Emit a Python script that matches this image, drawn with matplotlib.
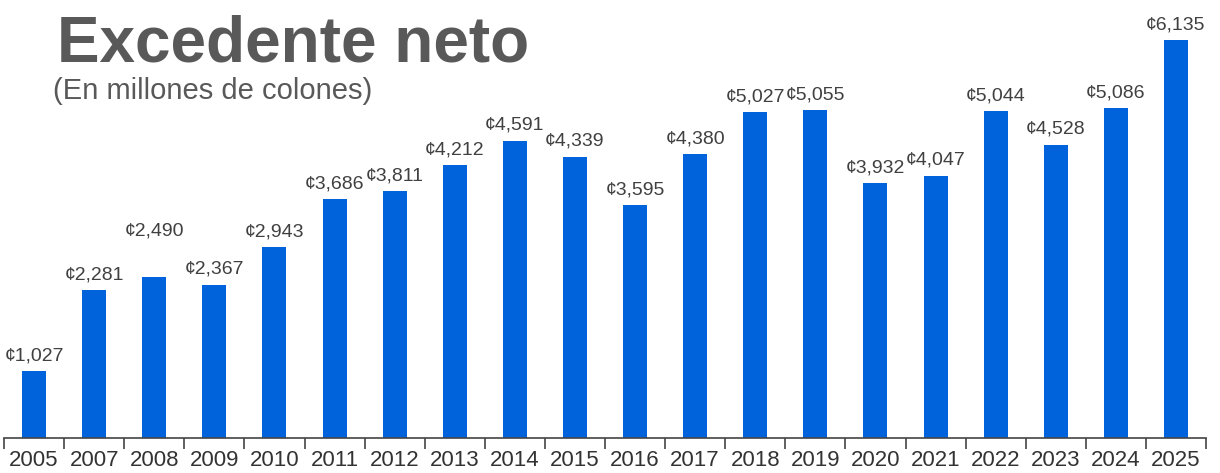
import matplotlib
matplotlib.use("Agg")
import matplotlib.pyplot as plt
import numpy as np

plt.rcParams["font.family"] = ["Liberation Sans", "DejaVu Sans"]

YEARS = ["2005", "2007", "2008", "2009", "2010", "2011", "2012", "2013", "2014", "2015",
         "2016", "2017", "2018", "2019", "2020", "2021", "2022", "2023", "2024", "2025"]
SURPLUS = [1027, 2281, 2490, 2367, 2943, 3686, 3811, 4212, 4591, 4339,
           3595, 4380, 5027, 5055, 3932, 4047, 5044, 4528, 5086, 6135]

BAR = "#0063DC"

fig = plt.figure(figsize=(12.2, 4.73), dpi=100)
ax = fig.add_axes([0.0, 0.074, 1.0, 0.926])
x = np.arange(len(YEARS))
ax.bar(x, SURPLUS, width=0.4, color=BAR, zorder=2)

# label for 2008 sits higher in the original
extra = {"2008": 30}
for xi, yr, v in zip(x, YEARS, SURPLUS):
    ax.annotate(f"¢{v:,}", (xi, v), xytext=(0, 7 + extra.get(yr, 0)), textcoords="offset pixels",
                ha="center", va="bottom", fontsize=14, color="#404040")

ax.set_xlim(-0.5 - 4 / 60.1, 19.5 + 14 / 60.1)
ax.set_ylim(0, 438 / 0.0648)
ax.set_xticks(x)
ax.set_xticklabels(YEARS, fontsize=16, color="#333333")
ax.tick_params(axis="x", length=0, pad=9)
ax.set_xticks(np.arange(-0.5, len(YEARS)), minor=True)
ax.tick_params(axis="x", which="minor", length=8, width=1.2, color="#444444", direction="out")
ax.set_yticks([])
for s in ["top", "right", "left"]:
    ax.spines[s].set_visible(False)
ax.spines["bottom"].set_bounds(-0.5, 19.5)
ax.spines["bottom"].set_color("#444444")
ax.spines["bottom"].set_linewidth(1.2)

fig.text(57 / 1220, 1 - 62 / 473, "Excedente neto", fontsize=46, weight="bold",
         color="#595959", ha="left", va="baseline")
fig.text(53 / 1220, 1 - 99 / 473, "(En millones de colones)", fontsize=21,
         color="#595959", ha="left", va="baseline")

fig.savefig("out.png", dpi=100)
